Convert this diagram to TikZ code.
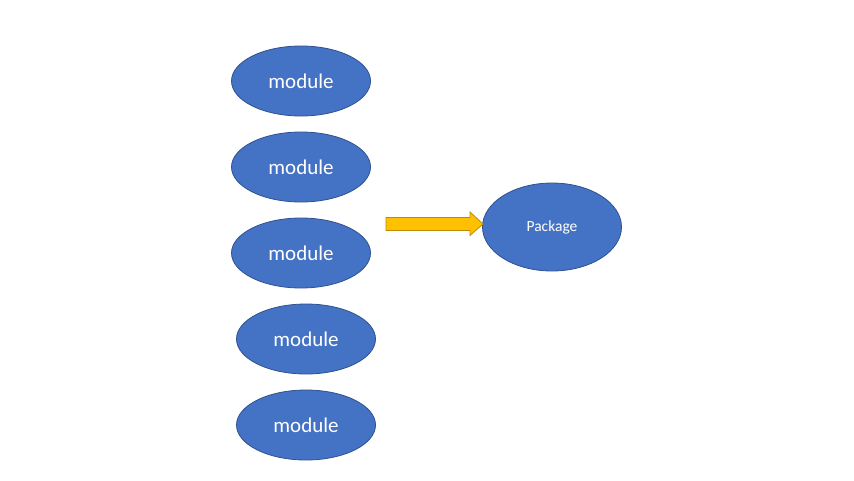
\documentclass[tikz,border=0pt]{standalone}
\usepackage{fontspec}
\setmainfont{Carlito}
\usetikzlibrary{shapes.geometric,shapes.arrows}
\definecolor{offblue}{HTML}{4472C4}
\definecolor{offblueedge}{HTML}{2F528F}
\definecolor{offgold}{HTML}{FFC000}
\definecolor{offgoldedge}{HTML}{BC8C00}
\tikzset{
  modnode/.style={ellipse, draw=offblueedge, fill=offblue, line width=0.8pt, inner sep=0pt,
    minimum width=139pt, minimum height=70pt, text=white, font=\fontsize{21}{24}\selectfont},
  pkgnode/.style={ellipse, draw=offblueedge, fill=offblue, line width=0.8pt, inner sep=0pt,
    minimum width=139pt, minimum height=88pt, text=white, font=\fontsize{15.5}{18}\selectfont},
}
\begin{document}
\begin{tikzpicture}[x=1pt,y=-1pt]
\useasboundingbox[fill=white] (0,0) rectangle (854,480);
\node[modnode] (m1) at (301,81) {module};
\node[modnode] (m2) at (301,167) {module};
\node[modnode] (m3) at (301,253) {module};
\node[modnode] (m4) at (306,339) {module};
\node[modnode] (m5) at (306,425) {module};
\node[pkgnode] (pkg) at (552,227) {Package};
\coordinate (as) at (386,224);
\coordinate (at) at (483,224);
\fill[offgold, draw=offgoldedge, line width=0.8pt]
  (386,217.5) -- (470,217.5) -- (470,212) -- (at) -- (470,235.5) -- (470,230.5) -- (386,230.5) -- cycle;
\end{tikzpicture}
\end{document}
